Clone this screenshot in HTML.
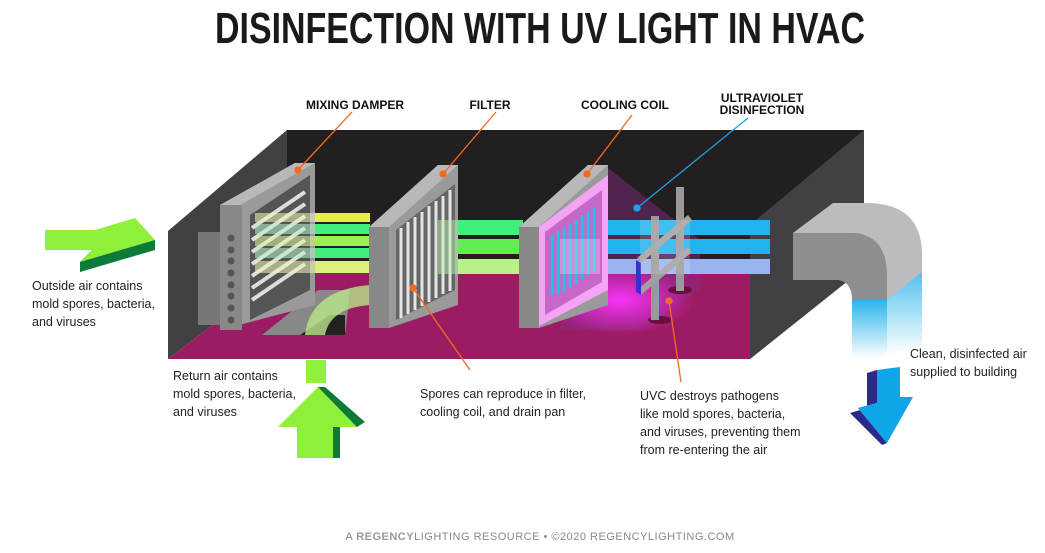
<!DOCTYPE html>
<html><head><meta charset="utf-8"><style>
body{margin:0;background:#fff}
svg{display:block}
.t{font-family:"Liberation Sans",sans-serif;font-size:12.5px;fill:#222}
.h{font-family:"Liberation Sans",sans-serif;font-size:12px;font-weight:bold;fill:#111}
</style></head><body>
<svg width="1045" height="553" viewBox="0 0 1045 553" xmlns="http://www.w3.org/2000/svg">
<defs>
<linearGradient id="duct" x1="0" y1="0" x2="0" y2="1"><stop offset="0" stop-color="#2ab4ec"/><stop offset="1" stop-color="#fff"/></linearGradient>
<radialGradient id="glow" cx="0.5" cy="0.5" r="0.5"><stop offset="0" stop-color="#ff33ff" stop-opacity="0.95"/><stop offset="1" stop-color="#ff33ff" stop-opacity="0"/></radialGradient>
</defs>
<text x="540" y="43" text-anchor="middle" textLength="650" lengthAdjust="spacingAndGlyphs" style="font-family:'Liberation Sans',sans-serif;font-weight:900;font-size:44px;fill:#1a1a1a">DISINFECTION WITH UV LIGHT IN HVAC</text>

<!-- box -->
<rect x="287" y="130" width="577" height="140" fill="#231f20"/>
<polygon points="287,130 287,268 168,359 168,231" fill="#414042"/>
<polygon points="287,268 864,268 750,359 168,359" fill="#9b1c62"/>
<polygon points="864,130 864,268 750,359 750,225" fill="#414042"/>

<!-- return opening -->
<polygon points="318,290 350,290 345,335 262,335" fill="#888"/>
<polygon points="330,315 345,315 345,335 300,335" fill="#222"/>
<path d="M305,335 Q310,290 370,285 L370,305 Q330,308 325,335 Z" fill="#b8e68a" opacity="0.8"/>

<!-- glow -->
<polygon points="608,168 700,240 700,290 640,330 560,330" fill="#8a2a8a" opacity="0.45"/>
<ellipse cx="620" cy="300" rx="75" ry="35" fill="url(#glow)"/>

<!-- air bands right -->
<rect x="438" y="220" width="85" height="15" fill="#3ff07a"/>
<rect x="438" y="239" width="85" height="15" fill="#5ef050"/>
<rect x="400" y="259" width="123" height="15" fill="#b8f08a"/>
<rect x="600" y="220" width="170" height="15" fill="#22b4ee"/>
<rect x="600" y="239" width="170" height="15" fill="#22b4ee"/>
<rect x="600" y="259" width="170" height="15" fill="#99b4f0"/>

<!-- damper -->
<rect x="198" y="232" width="30" height="93" fill="#777"/>
<polygon points="220,205 295,163 315,163 315,305 220,330" fill="#9a9a9c"/>
<polygon points="220,205 295,163 315,163 240,205" fill="#b8b8ba"/>
<rect x="220" y="205" width="22" height="125" fill="#888"/>
<polygon points="250,215 310,175 310,290 250,320" fill="#555"/>
<g stroke="#ddd" stroke-width="4">
<line x1="252" y1="228" x2="305" y2="192"/><line x1="252" y1="240" x2="305" y2="204"/><line x1="252" y1="252" x2="305" y2="216"/><line x1="252" y1="264" x2="305" y2="228"/><line x1="252" y1="276" x2="305" y2="240"/><line x1="252" y1="288" x2="305" y2="252"/><line x1="252" y1="300" x2="305" y2="264"/>
</g>
<g fill="#555"><circle cx="231" cy="238" r="3.5"/><circle cx="231" cy="250" r="3.5"/><circle cx="231" cy="261" r="3.5"/><circle cx="231" cy="273" r="3.5"/><circle cx="231" cy="285" r="3.5"/><circle cx="231" cy="296" r="3.5"/><circle cx="231" cy="308" r="3.5"/><circle cx="231" cy="320" r="3.5"/></g>
<!-- damper bands -->
<rect x="315" y="213" width="55" height="9" fill="#e8f03a"/>
<rect x="315" y="224" width="55" height="10" fill="#3ff07a"/>
<rect x="315" y="236" width="55" height="10" fill="#9cf050"/>
<rect x="315" y="248" width="55" height="10" fill="#3ff07a"/>
<rect x="315" y="261" width="55" height="12" fill="#d9f07a"/>
<g opacity="0.55">
<rect x="255" y="213" width="60" height="9" fill="#f4f8b0"/>
<rect x="255" y="224" width="60" height="10" fill="#b0f8c8"/>
<rect x="255" y="236" width="60" height="10" fill="#e0f8a0"/>
<rect x="255" y="248" width="60" height="10" fill="#b0f8c8"/>
<rect x="255" y="261" width="60" height="12" fill="#eef8b8"/>
</g>

<!-- filter -->
<polygon points="369,227 438,165 458,165 458,305 389,328 369,328" fill="#9a9a9c"/>
<polygon points="369,227 438,165 458,165 389,227" fill="#b8b8ba"/>
<rect x="369" y="227" width="20" height="101" fill="#888"/>
<polygon points="396,230 455,184 455,290 396,320" fill="#666"/>
<g stroke="#e4e4e4" stroke-width="3"><line x1="401" y1="228" x2="401" y2="318"/><line x1="408" y1="222" x2="408" y2="314"/><line x1="415" y1="217" x2="415" y2="310"/><line x1="422" y1="212" x2="422" y2="306"/><line x1="429" y1="206" x2="429" y2="302"/><line x1="436" y1="201" x2="436" y2="298"/><line x1="443" y1="196" x2="443" y2="294"/><line x1="450" y1="190" x2="450" y2="291"/></g>
<rect x="438" y="220" width="20" height="54" fill="#b8f0a8" opacity="0.5"/>

<!-- coil -->
<polygon points="519,227 588,165 608,165 608,305 539,328 519,328" fill="#9a9a9c"/>
<polygon points="519,227 588,165 608,165 539,227" fill="#b8b8ba"/>
<rect x="519" y="227" width="20" height="101" fill="#888"/>
<polygon points="539,227 608,175 608,290 539,326" fill="#f5a3f5"/>
<polygon points="545,232 602,190 602,282 545,315" fill="#c767c7"/>
<g fill="none" stroke="#1ec3f0" stroke-width="2.5">
<path d="M552,235 v60 M558,232 v62 M564,228 v64 M570,224 v64 M576,220 v64 M582,215 v64 M588,211 v64 M594,207 v64"/>
</g>
<rect x="560" y="239" width="40" height="35" fill="#ffffff" opacity="0.25"/>

<!-- UV lamps -->
<ellipse cx="660" cy="320" rx="12" ry="4" fill="#6a1040"/>
<ellipse cx="680" cy="290" rx="12" ry="4" fill="#6a1040"/>
<rect x="676" y="187" width="8" height="104" fill="#9a9a9c"/>
<rect x="651" y="216" width="8" height="104" fill="#9a9a9c"/>
<polygon points="637,258 688,215 692,220 641,263" fill="#a0a0a0"/>
<polygon points="637,290 688,247 692,252 641,295" fill="#a0a0a0"/>
<polygon points="636,260 641,263 641,295 636,292" fill="#3a30d0"/>
<rect x="640" y="220" width="50" height="54" fill="#ffffff" opacity="0.15"/>

<!-- duct -->
<polygon points="887,272 922,253 922,345 887,355" fill="url(#duct)"/>
<rect x="852" y="300" width="35" height="58" fill="url(#duct)"/>
<path d="M793,233 L833,203 L870,203 Q922,205 922,255 L922,272 L887,300 L887,275 Q887,235 853,233 Z" fill="#bcbcbe"/>
<path d="M793,233 L853,233 Q887,235 887,275 L887,300 L852,300 Q852,282 838,280 L793,280 Z" fill="#8e8e90"/>

<!-- outside arrow -->
<polygon points="45,250 92,250 80,262 80,272 155,250 155,240" fill="#0d7a3a"/>
<polygon points="45,230 95,230 135,218 155,240 80,262 92,250 45,250" fill="#8ef03a"/>
<!-- return arrow -->
<rect x="306" y="360" width="20" height="23" fill="#8ef03a"/>
<polygon points="318,387 325,387 365,422 357,427 340,427 340,458 333,458 333,427" fill="#0d7a3a"/>
<polygon points="318,387 357,427 333,427 333,458 297,458 297,427 278,427" fill="#8ef03a"/>
<!-- blue arrow -->
<polygon points="867,373 877,370 877,403 858,408 887,443 882,445 850,413 867,408" fill="#2a2a8a"/>
<polygon points="877,370 900,367 900,397 913,397 887,443 858,408 877,403" fill="#0fa6e8"/>

<!-- leaders -->
<g stroke="#f26b1d" stroke-width="1.3" fill="#f26b1d">
<line x1="352" y1="112" x2="298" y2="170"/><circle cx="298" cy="170" r="3"/>
<line x1="496" y1="112" x2="443" y2="174"/><circle cx="443" cy="174" r="3"/>
<line x1="632" y1="115" x2="587" y2="174"/><circle cx="587" cy="174" r="3"/>
<line x1="413" y1="288" x2="470" y2="370"/><circle cx="413" cy="288" r="3"/>
<line x1="669" y1="301" x2="681" y2="382"/><circle cx="669" cy="301" r="3"/>
</g>
<g stroke="#1ea0e6" stroke-width="1.3" fill="#1ea0e6"><line x1="748" y1="118" x2="637" y2="208"/><circle cx="637" cy="208" r="3"/></g>

<!-- labels -->
<text class="h" x="355" y="109" text-anchor="middle">MIXING DAMPER</text>
<text class="h" x="490" y="109" text-anchor="middle">FILTER</text>
<text class="h" x="625" y="109" text-anchor="middle">COOLING COIL</text>
<text class="h" x="762" y="102" text-anchor="middle">ULTRAVIOLET</text>
<text class="h" x="762" y="114" text-anchor="middle">DISINFECTION</text>
<g class="t">
<text x="32" y="290">Outside air contains</text><text x="32" y="308">mold spores, bacteria,</text><text x="32" y="326">and viruses</text>
<text x="173" y="380">Return air contains</text><text x="173" y="398">mold spores, bacteria,</text><text x="173" y="416">and viruses</text>
<text x="420" y="398">Spores can reproduce in filter,</text><text x="420" y="416">cooling coil, and drain pan</text>
<text x="640" y="400">UVC destroys pathogens</text><text x="640" y="418">like mold spores, bacteria,</text><text x="640" y="436">and viruses, preventing them</text><text x="640" y="454">from re-entering the air</text>
<text x="910" y="358">Clean, disinfected air</text><text x="910" y="376">supplied to building</text>
</g>
<text x="540" y="540" text-anchor="middle" style="font-family:'Liberation Sans',sans-serif;font-size:11px;fill:#888;letter-spacing:0.5px">A <tspan font-weight="bold" fill="#999">REGENCY</tspan>LIGHTING  RESOURCE • ©2020 REGENCYLIGHTING.COM</text>
</svg>
</body></html>
